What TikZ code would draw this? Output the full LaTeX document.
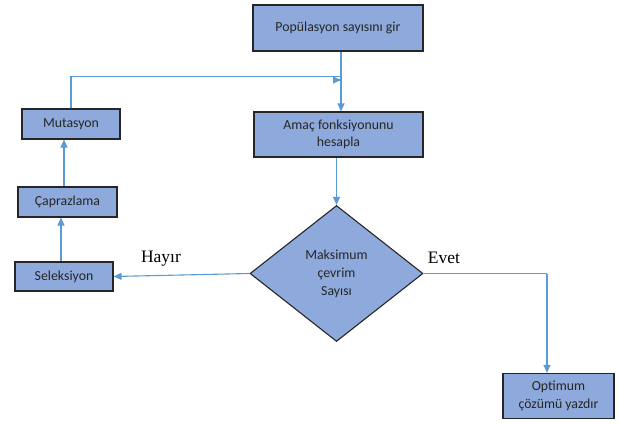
\documentclass[tikz,border=0pt]{standalone}
\usepackage{fontspec}
\setmainfont{Carlito}
\newfontfamily\etiketfont{Liberation Serif}
\usetikzlibrary{shapes.geometric,arrows.meta}
\definecolor{kutumavi}{HTML}{8EA9DB}
\definecolor{okmavi}{HTML}{5B9BD5}
\definecolor{kenar}{HTML}{262626}
\tikzset{
  kutu/.style={draw=kenar, line width=1.1pt, fill=kutumavi, text=kenar, align=center,
    font=\fontsize{13.8}{17.5}\selectfont, inner sep=0pt},
  karar/.style={diamond, draw=kenar, line width=1.1pt, fill=kutumavi, text=kenar, align=center,
    font=\fontsize{13.8}{18}\selectfont, inner sep=0pt, minimum width=173pt, minimum height=136pt},
  ok/.style={draw=okmavi, line width=1.1pt, -{Triangle[length=8pt,width=7pt]}},
  hat/.style={draw=okmavi, line width=1.1pt},
  etiket/.style={font=\etiketfont\fontsize{17.5}{20}\selectfont, text=black}
}
\begin{document}
\begin{tikzpicture}[x=1pt, y=-1pt]
  \useasboundingbox (0,0) rectangle (620,423);
  % Coordinates
  \coordinate (P) at (338, 28);
  \coordinate (A) at (338.5, 134.5);
  \coordinate (K) at (336.5, 273.5);
  \coordinate (O) at (558.5, 396);
  \coordinate (M) at (71, 124);
  \coordinate (C) at (67.5, 202);
  \coordinate (S) at (64, 276.5);
  \coordinate (birles) at (341, 80);
  \coordinate (kose) at (547, 273.5);

  % Nodes
  \node[kutu, minimum width=170pt, minimum height=46pt] (pop) at (P) {Popülasyon sayısını gir};
  \node[kutu, minimum width=169pt, minimum height=45pt] (amac) at (A) {Amaç fonksiyonunu\\hesapla};
  \node[karar] (karar) at (K) {Maksimum\\çevrim\\Sayısı};
  \node[kutu, minimum width=111pt, minimum height=45pt] (opt) at (O) {Optimum\\çözümü yazdır};
  \node[kutu, minimum width=98pt, minimum height=30pt] (mut) at (M) {Mutasyon};
  \node[kutu, minimum width=99pt, minimum height=30pt] (capr) at (C) {Çaprazlama};
  \node[kutu, minimum width=98pt, minimum height=29pt] (sel) at (S) {Seleksiyon};

  % Drawing
  \draw[ok] (pop.south -| birles) -- (amac.north -| birles);
  \draw[ok] (mut.north) -- ++(0,-32) -| ([xshift=-0.5pt]birles) -- (birles);
  \draw[ok] (amac.south -| karar.north) -- (karar.north);
  \draw[ok] (karar.west) -- (sel.east);
  \draw[hat] (karar.east) -- (kose);
  \draw[ok] (kose) -- (opt.north -| kose);
  \draw[ok] (sel.north -| 61,0) -- (capr.south -| 61,0);
  \draw[ok] (capr.north -| 64,0) -- (mut.south -| 64,0);
  \node[etiket] (hayir) at (161, 259) {Hayır};
  \node[etiket] (evet) at (444, 258) {Evet};
\end{tikzpicture}
\end{document}
